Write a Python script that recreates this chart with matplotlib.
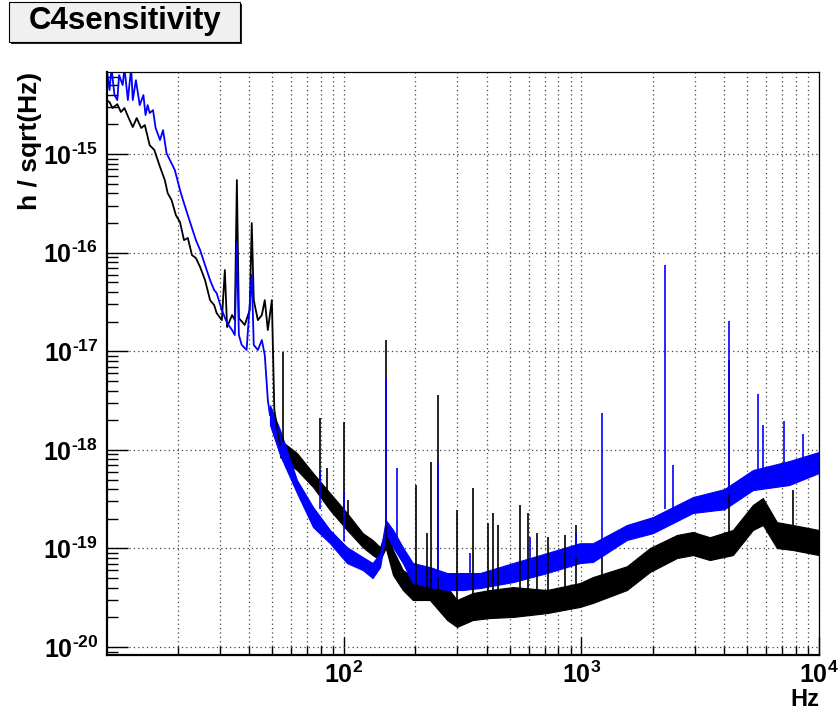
import numpy as np
import matplotlib
matplotlib.use('Agg')
import matplotlib.pyplot as plt
from matplotlib.ticker import FixedLocator, FuncFormatter, LogLocator, NullFormatter
from matplotlib.patches import Rectangle

plt.rcParams['font.family'] = ['Liberation Sans', 'DejaVu Sans']
plt.rcParams['font.weight'] = 'bold'
plt.rcParams['mathtext.fontset'] = 'custom'
plt.rcParams['mathtext.rm'] = 'Liberation Sans:bold'
plt.rcParams['mathtext.bf'] = 'Liberation Sans:bold'
plt.rcParams['mathtext.default'] = 'rm'

# ---- black trace ----
# low frequency part: single jagged line
black_f = [10.0, 10.3, 10.6, 11.1, 11.5, 11.9, 12.4, 12.9, 13.4, 14.0, 14.5, 15.2, 15.9, 16.7,
           17.6, 18.1, 18.8, 19.6, 20.4, 21.2, 22.0, 22.9, 23.8, 24.8, 26.0, 27.3, 28.4, 29.1,
           30.6, 31.5, 32.2, 33.8, 34.7, 35.4, 36.1, 38.2, 40.1, 40.9, 41.7, 43.4, 45.1, 46.4,
           47.8, 49.7, 50.9, 52.5, 53.8]
black_h = [3.53e-15, 3.36e-15, 2.93e-15, 3.21e-15, 2.67e-15, 2.93e-15, 2.32e-15, 1.88e-15,
           2.32e-15, 1.84e-15, 1.97e-15, 1.23e-15, 1.10e-15, 7.73e-16, 5.45e-16, 4.02e-16,
           3.41e-16, 2.40e-16, 2.04e-16, 1.34e-16, 1.41e-16, 9.46e-17, 8.82e-17, 7.14e-17,
           5.27e-17, 3.30e-17, 2.94e-17, 2.44e-17, 2.07e-17, 6.67e-17, 1.76e-17, 2.33e-17,
           2.07e-17, 5.45e-16, 2.17e-17, 1.85e-17, 2.62e-17, 2.00e-16, 3.30e-17, 2.07e-17,
           2.33e-17, 3.30e-17, 1.64e-17, 3.30e-17, 2.54e-18, 1.59e-18, 1.12e-18]
# noisy band above ~50 Hz: upper / lower edge
black_band_f = [53.8, 63.4, 74.1, 87.3, 103, 120, 132, 142, 150, 161, 177, 195, 230, 272, 299,
                349, 412, 515, 716, 985, 1118, 1555, 1943, 2524, 2948, 3476, 4345, 5275, 5811,
                6657, 7774, 10000]
black_band_hi = [1.26e-18, 9.29e-19, 5.82e-19, 3.65e-19, 2.29e-19, 1.43e-19, 1.22e-19, 1.03e-19,
                 1.54e-19, 9.64e-20, 6.04e-20, 5.13e-20, 4.46e-20, 4.06e-20, 3.00e-20, 3.53e-20,
                 3.79e-20, 4.06e-20, 3.79e-20, 4.46e-20, 5.13e-20, 6.60e-20, 1.01e-19, 1.37e-19,
                 1.47e-19, 1.30e-19, 1.54e-19, 2.76e-19, 3.25e-19, 1.85e-19, 1.73e-19, 1.54e-19]
black_band_lo = [8.45e-19, 6.24e-19, 4.20e-19, 2.45e-19, 1.54e-19, 1.03e-19, 8.57e-20, 7.63e-20,
                 1.01e-19, 5.37e-20, 3.79e-20, 3.00e-20, 3.00e-20, 1.88e-20, 1.60e-20, 1.88e-20,
                 1.97e-20, 2.02e-20, 2.21e-20, 2.55e-20, 2.80e-20, 3.79e-20, 5.77e-20, 7.99e-20,
                 8.57e-20, 7.63e-20, 8.57e-20, 1.54e-19, 1.73e-19, 1.01e-19, 9.64e-20, 8.57e-20]
# narrow lines
black_spike_f = [55.3, 79, 84.5, 100, 104, 150, 201, 224, 233, 250, 300, 350, 403, 423, 445,
                 550, 594, 650, 720, 852, 948, 1216, 4200, 7774]
black_spike_top = [9.8e-18, 2.1e-18, 6.5e-19, 1.91e-18, 3.1e-19, 1.3e-17, 4.4e-19, 1.43e-19,
                   7.5e-19, 3.6e-18, 2.45e-19, 4.1e-19, 1.8e-19, 2.3e-19, 1.73e-19, 2.76e-19,
                   2.29e-19, 1.43e-19, 1.30e-19, 1.37e-19, 1.73e-19, 8.2e-20, 8.15e-18, 3.9e-19]
black_spike_base = [1.2e-18, 5.0e-19, 3.5e-19, 2.3e-19, 2.0e-19, 1.3e-19, 4.0e-20, 4.0e-20,
                    4.0e-20, 3.5e-20, 2.5e-20, 2.5e-20, 2.5e-20, 2.5e-20, 2.5e-20, 2.5e-20,
                    2.5e-20, 2.5e-20, 2.5e-20, 3.0e-20, 3.0e-20, 4.0e-20, 1.2e-19, 1.5e-19]

# ---- blue trace ----
blue_f = [10.0, 10.3, 10.5, 10.8, 11.1, 11.3, 11.7, 11.9, 12.3, 12.7, 12.9, 13.3, 13.8, 14.3,
          14.6, 14.9, 15.2, 15.7, 16.1, 16.8, 17.3, 17.9, 18.5, 19.4, 20.4, 21.0, 22.0, 22.9,
          23.8, 24.8, 26.0, 27.3, 28.4, 29.1, 30.6, 32.2, 33.8, 34.7, 35.4, 36.1, 37.1, 38.9,
          40.9, 41.7, 43.4, 45.1, 46.4, 47.8, 48.8]
blue_h = [7.5e-15, 4.46e-15, 7.5e-15, 3.97e-15, 3.53e-15, 6.32e-15, 5.01e-15, 7.5e-15, 3.53e-15,
          7.5e-15, 3.53e-15, 5.62e-15, 3.14e-15, 3.97e-15, 2.49e-15, 3.14e-15, 2.61e-15,
          2.79e-15, 1.84e-15, 1.39e-15, 1.75e-15, 1.02e-15, 8.69e-16, 6.88e-16, 4.31e-16,
          3.41e-16, 2.40e-16, 1.78e-16, 1.34e-16, 1.06e-16, 7.48e-17, 5.27e-17, 4.18e-17,
          3.89e-17, 2.62e-17, 1.93e-17, 1.64e-17, 1.46e-17, 1.25e-16, 1.46e-17, 1.16e-17,
          1.03e-17, 5.93e-17, 1.16e-17, 1.03e-17, 1.30e-17, 9.15e-18, 3.20e-18, 2.26e-18]
blue_band_f = [48.8, 53.8, 63.4, 74.1, 87.3, 103, 120, 132, 142, 150, 161, 177, 195, 230, 272,
               317, 374, 515, 716, 985, 1118, 1555, 2000, 2948, 4000, 5275, 7500, 10000]
blue_band_hi = [2.84e-18, 1.59e-18, 4.94e-19, 2.63e-19, 1.54e-19, 1.03e-19, 8.18e-20, 7.11e-20,
                8.98e-20, 1.94e-19, 1.54e-19, 1.03e-19, 7.11e-20, 6.48e-20, 5.63e-20, 5.63e-20,
                5.63e-20, 7.11e-20, 8.98e-20, 1.13e-19, 1.13e-19, 1.73e-19, 2.08e-19, 3.32e-19,
                4.0e-19, 6.24e-19, 7.7e-19, 9.51e-19]
blue_band_lo = [1.79e-18, 8.86e-19, 3.65e-19, 1.65e-19, 1.13e-19, 7.11e-20, 6.04e-20, 5.01e-20,
                6.48e-20, 1.43e-19, 1.03e-19, 7.11e-20, 4.46e-20, 4.06e-20, 3.79e-20, 3.79e-20,
                3.97e-20, 4.56e-20, 5.63e-20, 7.11e-20, 7.3e-20, 1.22e-19, 1.43e-19, 2.29e-19,
                2.5e-19, 3.91e-19, 4.4e-19, 5.82e-19]
blue_spike_f = [79, 100, 150, 167, 250, 340, 610, 950, 1216, 2246, 2420, 4200, 5560, 5840,
                7100, 8600]
blue_spike_top = [5.96e-19, 3.73e-19, 5.35e-18, 6.5e-19, 7.5e-19, 9.0e-20, 1.3e-19, 1.43e-19,
                  2.36e-18, 7.48e-17, 7.0e-19, 2.02e-17, 3.68e-18, 1.79e-18, 1.96e-18, 1.44e-18]
blue_spike_base = [2.5e-19, 1.2e-19, 1.7e-19, 1.2e-19, 5.0e-20, 5.0e-20, 7.0e-20, 8.0e-20,
                   1.2e-19, 2.5e-19, 2.5e-19, 3.5e-19, 5.0e-19, 5.0e-19, 6.0e-19, 7.0e-19]

fig = plt.figure(figsize=(8.4, 7.13), dpi=100)
ax = fig.add_axes([0.1268, 0.0813, 0.848, 0.8177])

# black first, blue over it
ax.plot(black_f, black_h, color='black', lw=1.3)
ax.fill_between(black_band_f, black_band_lo, black_band_hi, color='black', lw=0.8)
ax.vlines(black_spike_f, black_spike_base, black_spike_top, color='black', lw=1.2)

ax.plot(blue_f, blue_h, color='#0000ff', lw=1.3)
ax.fill_between(blue_band_f, blue_band_lo, blue_band_hi, color='#0000ff', lw=0.8)
ax.vlines(blue_spike_f, blue_spike_base, blue_spike_top, color='#0000ff', lw=1.2)

ax.set_xscale('log')
ax.set_yscale('log')
ax.set_xlim(10, 10000)
ax.set_ylim(8.3e-21, 6.8e-15)

ax.xaxis.set_major_locator(FixedLocator([100, 1000, 10000]))
ax.xaxis.set_minor_locator(LogLocator(base=10, subs=np.arange(2, 10), numticks=20))
ax.yaxis.set_major_locator(FixedLocator([1e-20, 1e-19, 1e-18, 1e-17, 1e-16, 1e-15]))
ax.yaxis.set_minor_locator(LogLocator(base=10, subs=np.arange(2, 10), numticks=20))


def log_label(v, p):
    e = int(round(np.log10(v)))
    if e < 0:
        return r'$10^{\text{-}%d}$' % (-e)
    return r'$10^{%d}$' % e


fmt = FuncFormatter(log_label)
ax.xaxis.set_major_formatter(fmt)
ax.yaxis.set_major_formatter(fmt)
ax.xaxis.set_minor_formatter(NullFormatter())
ax.yaxis.set_minor_formatter(NullFormatter())

ax.tick_params(axis='x', which='major', direction='in', length=13, width=1, labelsize=18, pad=5,
               top=False)
ax.tick_params(axis='x', which='minor', direction='in', length=6.5, width=1, top=False)
ax.tick_params(axis='y', which='major', direction='in', length=15, width=1, labelsize=18, pad=6,
               right=False)
ax.tick_params(axis='y', which='minor', direction='in', length=8, width=1, right=False)

gs = dict(color='#444444', linestyle=(0, (1, 2.5)), linewidth=0.9)
ax.grid(True, axis='x', which='both', **gs)
ax.grid(True, axis='y', which='major', **gs)
ax.set_axisbelow(True)

ax.spines['left'].set_linewidth(1.6)
ax.spines['bottom'].set_linewidth(1.6)
ax.spines['top'].set_linewidth(0.9)
ax.spines['right'].set_linewidth(0.9)

fig.text(30 / 840, 1 - 72 / 713, 'h / sqrt(Hz)', rotation=90, ha='center', va='top',
         fontsize=19, fontweight='bold')
fig.text(819 / 840, 1.5 / 713, 'Hz', ha='right', va='bottom', fontsize=17,
         fontweight='bold')

# title box with shadow
fig.patches.append(Rectangle((11 / 840, 1 - 44 / 713), 231 / 840, 40 / 713,
                             transform=fig.transFigure, facecolor='#222222', edgecolor='none'))
fig.patches.append(Rectangle((9 / 840, 1 - 42 / 713), 231 / 840, 40 / 713,
                             transform=fig.transFigure, facecolor='#f0f0f0', edgecolor='black',
                             lw=0.8))
fig.text(125 / 840, 1 - 21 / 713, 'C4sensitivity', ha='center', va='center', fontsize=22.5,
         fontweight='bold')

fig.savefig('out.png', dpi=100)
